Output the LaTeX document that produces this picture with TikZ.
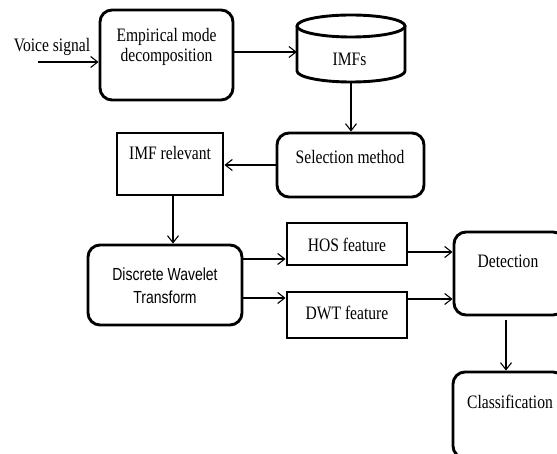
\documentclass[tikz,border=0pt]{standalone}
\usepackage{fontspec}
\setmainfont{Liberation Serif}[FakeStretch=0.82]
\newfontfamily\dwtfont{Liberation Sans}[FakeStretch=0.8]
\usetikzlibrary{arrows.meta}

\tikzset{
  rbox/.style={draw, line width=2.9pt, rounded corners=12pt, inner sep=0pt},
  sbox/.style={draw, line width=2.9pt, inner sep=0pt},
  ghost/.style={inner sep=0pt},
  txt/.style={inner sep=0pt, align=center, font=\fontsize{19}{20}\selectfont},
  sanstxt/.style={inner sep=0pt, align=center, font=\dwtfont\fontsize{17.5}{23}\selectfont},
  arr/.style={line width=1.1pt, -{Straight Barb[length=7pt,width=11pt,line width=1.1pt]}}
}

\begin{document}
\begin{tikzpicture}[x=1pt, y=-1pt]
  \useasboundingbox (0,0) rectangle (557,454);
  \clip (0,0) rectangle (557,454);

  % boxes
  \node[rbox, minimum width=133, minimum height=90] (emd) at (166.5,55) {};
  \node[rbox, minimum width=147, minimum height=64] (sel) at (350.5,165) {};
  \node[sbox, minimum width=106, minimum height=62] (imfrel) at (170,164) {};
  \node[rbox, minimum width=154, minimum height=80] (dwt) at (165,285) {};
  \node[sbox, minimum width=120, minimum height=42] (hos) at (347,244) {};
  \node[sbox, minimum width=120, minimum height=46] (dwtf) at (347,315) {};
  \node[rbox, minimum width=111, minimum height=83] (det) at (509.5,273.5) {};
  \node[rbox, minimum width=112, minimum height=86] (cls) at (509,415) {};

  % IMFs store drawn as a cylinder
  \node[ghost, minimum width=108, minimum height=67] (imfs) at (351,48.5) {};
  \draw[line width=2.9pt] (297,26) -- (297,71)
        arc[start angle=180, end angle=0, x radius=54, y radius=11] -- (405,26);
  \draw[line width=2.9pt] (351,26) ellipse [x radius=54, y radius=11];

  % labels
  \node[txt] (voicetxt) at (52,47) {Voice signal};
  \node[txt] (emdtxt) at (166.5,47) {Empirical mode\\decomposition};
  \node[txt] (imfstxt) at (349.5,59) {IMFs};
  \node[txt] (seltxt) at (350,157) {Selection method};
  \node[txt] (imfreltxt) at (170,153) {IMF relevant};
  \node[sanstxt] (dwttxt) at (165,286) {Discrete Wavelet\\Transform};
  \node[txt] (hostxt) at (347,245) {HOS feature};
  \node[txt] (dwtftxt) at (347,313) {DWT feature};
  \node[txt] (dettxt) at (508,261) {Detection};
  \node[txt] (clstxt) at (510,402) {Classification};

  % connectors
  \coordinate (vin) at (38,62);
  \draw[arr] (vin) -- (vin -| emd.west);
  \draw[arr] ([yshift=3pt]emd.east) -- ([yshift=3pt]emd.east -| imfs.west);
  \draw[arr] (imfs.south) -- (imfs.south |- sel.north);
  \draw[arr] (sel.west) -- (sel.west -| imfrel.east);
  \draw[arr] ([xshift=3pt]imfrel.south) -- ([xshift=3pt]imfrel.south |- dwt.north);
  \draw[arr] ([yshift=26pt]dwt.east) -- ([yshift=26pt]dwt.east -| hos.west);
  \draw[arr] ([yshift=-13pt]dwt.east) -- ([yshift=-13pt]dwt.east -| dwtf.west);
  \draw[arr] ([yshift=-8pt]hos.east) -- ([yshift=-8pt]hos.east -| det.west);
  \draw[arr] ([yshift=16pt]dwtf.east) -- ([yshift=16pt]dwtf.east -| det.west);
  \draw[arr, shorten <=4pt] ([xshift=-3.5pt]det.south) -- ([xshift=-3.5pt]det.south |- cls.north);
\end{tikzpicture}
\end{document}
